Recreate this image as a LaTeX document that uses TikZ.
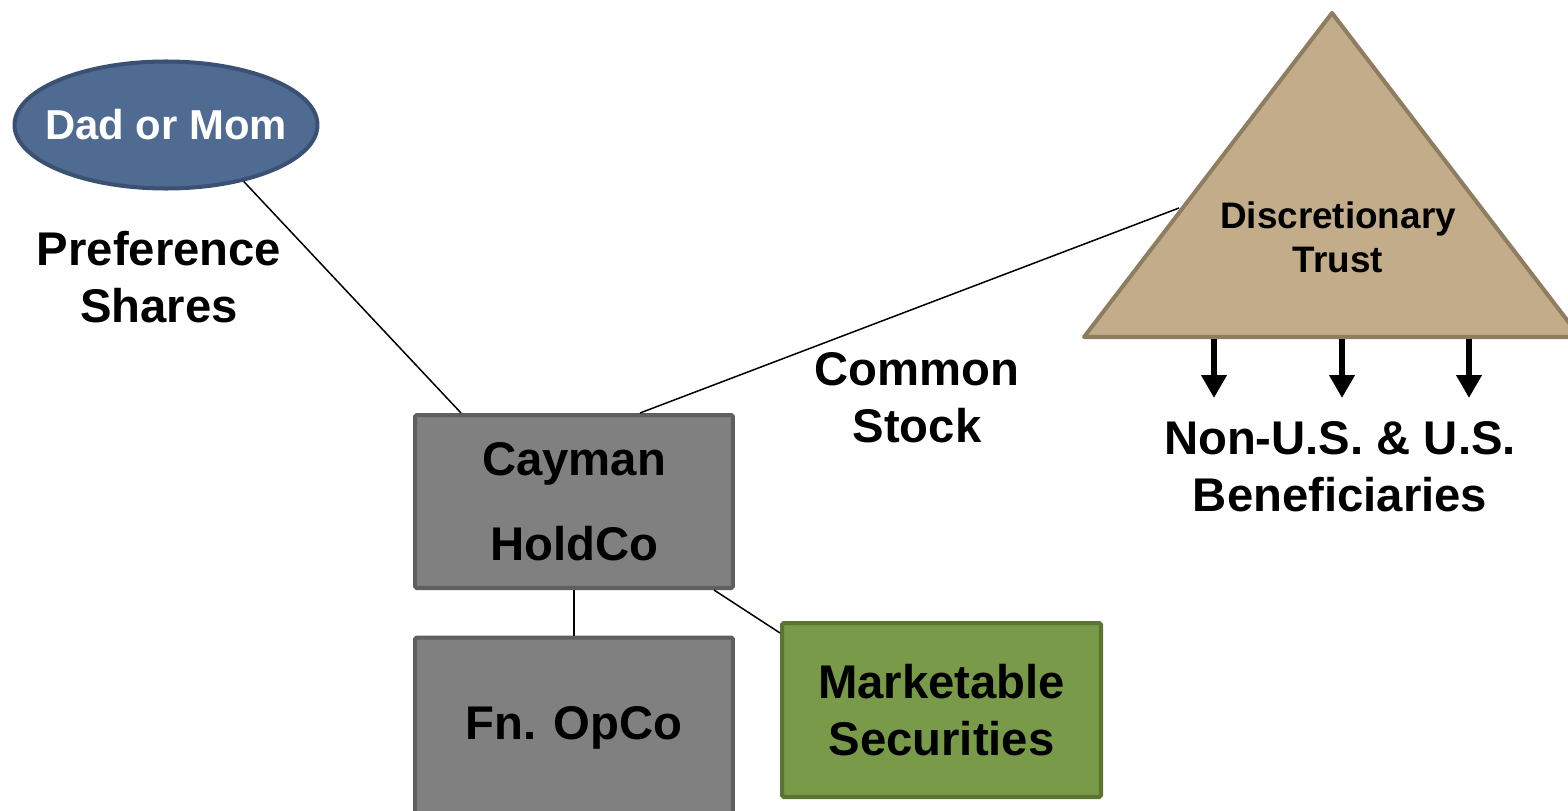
\documentclass[tikz,border=0pt]{standalone}
\usepackage{fontspec}
\setmainfont{Liberation Sans}
\usetikzlibrary{arrows.meta,calc,shapes.geometric}
\definecolor{ellfill}{HTML}{4F6B92}
\definecolor{elldraw}{HTML}{3A5173}
\definecolor{boxfill}{HTML}{808080}
\definecolor{boxdraw}{HTML}{5F5F5F}
\definecolor{grnfill}{HTML}{799A48}
\definecolor{grndraw}{HTML}{5B7431}
\definecolor{trifill}{HTML}{C2AC8A}
\definecolor{tridraw}{HTML}{8E7D61}
\tikzset{
  bigtxt/.style={font=\bfseries\fontsize{26.9}{32.3}\selectfont, align=center, inner sep=0pt},
  graybox/.style={draw=boxdraw, fill=boxfill, line width=2.3pt, minimum width=6.36cm, inner sep=0pt, rounded corners=1pt},
  greenbox/.style={draw=grndraw, fill=grnfill, line width=2.3pt, minimum width=6.38cm, minimum height=3.48cm, inner sep=0pt, rounded corners=1pt},
  conn/.style={draw=black, line width=0.85pt},
  benarrow/.style={line width=3.5pt, -{Triangle[width=13.8pt,length=13pt]}}
}
\begin{document}
\begin{tikzpicture}[x=0.02cm, y=-0.02cm]
\useasboundingbox (0,0) rectangle (1568,811);
\clip (0,0) rectangle (1568,811);
% trust triangle
\coordinate (apex) at (1332,13);
\coordinate (bl) at (1084,337);
\coordinate (br) at (1580,337);
\filldraw[fill=trifill, draw=tridraw, line width=2.3pt, line join=round] (apex) -- (bl) -- (br) -- cycle;
\node[font=\bfseries\fontsize{21}{25}\selectfont, align=center, inner sep=0pt] (trust) at (1338,237) {Discretionary\\Trust};
\coordinate (trustL) at (1179,208);
% parent
\node[ellipse, draw=elldraw, fill=ellfill, line width=2.3pt, minimum width=6.06cm, minimum height=2.54cm, inner sep=0pt] (dad) at (166,125) {};
\node[text=white, inner sep=0pt, font=\bfseries\fontsize{23.8}{28}\selectfont] (dadtxt) at (166,125) {Dad or Mom};
% boxes
\node[graybox, minimum height=3.46cm, font=\bfseries\fontsize{26.9}{48.2}\selectfont, align=center] (cayman) at (574,501.5) {Cayman\\HoldCo};
\node[graybox, minimum height=3.62cm, font=\bfseries\fontsize{26.9}{32.3}\selectfont] (opco) at (574,728) {Fn. OpCo};
\node[greenbox, font=\bfseries\fontsize{26.9}{32.3}\selectfont, align=center] (mkt) at (941.5,710) {Marketable\\Securities};
% labels
\node[bigtxt] (pref) at (159,277) {Preference\\Shares};
\node[bigtxt] (common) at (917,398) {Common\\Stock};
\node[bigtxt] (benef) at (1340,467) {Non-U.S. \& U.S.\\Beneficiaries};
% connectors
\draw[conn] (dad.-36) -- ($(cayman.north west)+(48,0)$);
\draw[conn] ($(cayman.north west)+(227,0)$) -- (trustL);
\draw[conn] (cayman.south) -- (opco.north);
\draw[conn] ($(cayman.south east)+(-21,0)$) -- ($(mkt.north west)+(0,12)$);
% beneficiary arrows
\foreach \i/\x in {1/1214,2/1342,3/1469}{
  \coordinate (s\i) at (\x,339);
  \coordinate (e\i) at (\x,398);
  \draw[benarrow] (s\i) -- (e\i);
}
\end{tikzpicture}
\end{document}
